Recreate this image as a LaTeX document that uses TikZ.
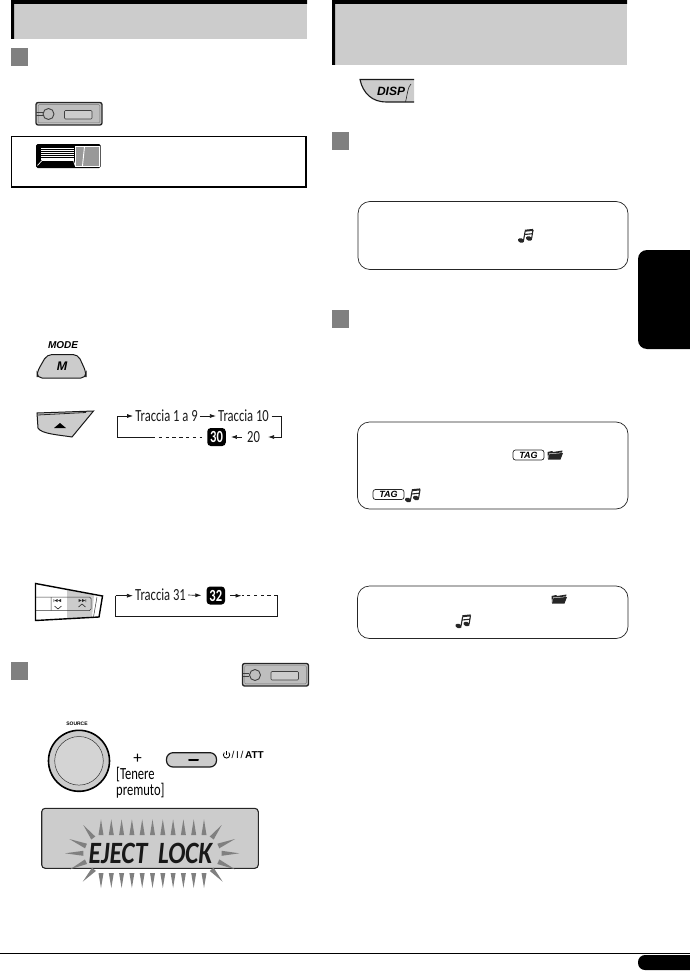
\documentclass[tikz,border=0pt]{standalone}
\usepackage{fontspec}
\setmainfont{Carlito}
\newfontfamily\condfont[FakeStretch=0.74]{Carlito}
\newfontfamily\lcdfont[FakeStretch=0.82]{Carlito}
\newfontfamily\keyfont{Liberation Sans}
\usetikzlibrary{calc,arrows.meta}
\definecolor{headgray}{HTML}{CCCCCC}
\definecolor{stepgray}{HTML}{808080}
\definecolor{panelgray}{HTML}{BEBEBE}
\tikzset{
  pics/headunit/.style={code={
    \draw[fill=panelgray,draw=black!85,line width=1.3pt,rounded corners=2pt] (0,0) rectangle (66,22.5);
    \draw[draw=black!55,line width=0.4pt,rounded corners=1pt] (2.2,2.2) rectangle (63.8,20.3);
    \draw[black!75,line width=0.9pt,fill=panelgray] (12.5,11.5) circle (5.5);
    \draw[black!75,line width=0.6pt] (0,10) -- (6.5,10) (0,12.8) -- (6.5,12.8);
    \draw[black!75,fill=headgray,line width=0.6pt,rounded corners=1pt] (28.5,8) rectangle (56,16.5);
  }},
  pics/notemark/.style={code={
    \fill[black!85,rotate around={-20:(3,11)}] (3,11) ellipse (3.2 and 2.2);
    \fill[black!85,rotate around={-20:(11,9)}] (11,9) ellipse (3.2 and 2.2);
    \draw[black!85,line width=1.1pt] (5.5,11) -- (7.2,1.5);
    \draw[black!85,line width=1.1pt] (13.6,9) -- (15,0.5);
    \draw[black!85,line width=2pt] (7,1.2) -- (15.2,0.4);
    \draw[black!85,line width=1.1pt] (6.5,5) -- (14.5,4.2);
  }},
  pics/foldermark/.style={code={
    \fill[black!85] (0.5,2) -- (5,1) -- (6,2) -- (15.5,0.5) -- (15,2.5) -- (2,3.5) -- (1,9) -- cycle;
    \fill[black!85] (2.5,4) -- (16,3) -- (13.5,9.5) -- (1,9.5) -- cycle;
  }}
}
\begin{document}
\begin{tikzpicture}[>=Latex,x=1pt,y=-1pt,
  chain/.style={line width=0.7pt,black!90},
  dashline/.style={chain,dash pattern=on 3.4pt off 3.4pt},
  tipped/.style={chain,-{Latex[length=6pt,width=4pt]}},
  tracklabel/.style={inner sep=0pt,font=\condfont\fontsize{17}{17}\selectfont,black!90},
  badge/.style={fill=black,rounded corners=3.5pt,inner sep=0pt,minimum width=18.5pt,minimum height=18pt,text=white,font=\condfont\bfseries\fontsize{17}{17}\selectfont},
  header/.style={fill=headgray},
  stepmark/.style={fill=stepgray},
  infobox/.style={draw=black!85,line width=0.7pt,rounded corners=12pt},
  tagbox/.style={draw=black!85,line width=0.7pt,rounded corners=2.5pt,inner sep=0pt,minimum width=31pt,minimum height=10pt,font=\keyfont\bfseries\itshape\fontsize{9}{9}\selectfont},
  keyface/.style={fill=headgray,draw=black!90,line width=1pt},
  ray/.style={fill=stepgray}]
  \useasboundingbox (0,0) rectangle (690,971);
  % Page furniture
  \fill[header] (11,0) rectangle (307,39);
  \fill[black] (11,0) rectangle (307,4) (11,0) rectangle (14,39);
  \fill[header] (332,0) rectangle (627,65);
  \fill[black] (332,0) rectangle (627,4) (332,0) rectangle (335,65);
  \fill[black,rounded corners=9pt] (638,250) -- (705,250) -- (705,349) -- (638,349) -- cycle;
  \fill[black,rounded corners=7pt] (638,955) -- (705,955) -- (705,970) -- (638,970) -- cycle;
  \draw[black,line width=1.4pt] (0,953.2) -- (690,953.2);
  \foreach \sx/\sy in {11/48,11/662,332/132,332/310}{\fill[stepmark] (\sx,\sy) rectangle ++(17,18);}
  % Left column, upper part
  \pic at (36,102.5) {headunit};
  \draw[black,line width=1.4pt] (11.7,136.7) rectangle (306,187);
  \fill[black,rounded corners=1.5pt] (36,144) rectangle (100.5,168);
  \fill[white] (41,147.5) rectangle (74,160);
  \foreach \ly in {149,151.2,153.4,155.6,157.8}{\draw[black,line width=0.9pt] (41,\ly) -- (74,\ly);}
  \draw[white,line width=0.7pt] (37.5,165.5) -- (42,160.5) -- (73.5,160.5) -- (75,165.5);
  \fill[black!40] (75.5,146.5) rectangle (99,165.8);
  \draw[white,line width=0.9pt] (84.5,146.5) -- (82.5,165.8);
  \draw[white,line width=0.5pt] (75.5,146.5) rectangle (99,165.8);
  \node[font=\keyfont\bfseries\itshape\fontsize{10}{10}\selectfont,inner sep=0pt] (modelabel) at (63,345.3) {MODE};
  \draw[keyface,rounded corners=5pt] (37,378) -- (37,372) -- (47,354.5) -- (78,354.5) -- (86,372) -- (86,378) -- cycle;
  \node[font=\keyfont\bfseries\itshape\fontsize{12.5}{12.5}\selectfont,inner sep=0pt] (modekey) at (62,366.5) {M};
  % Eject key
  \draw[fill=headgray,draw=black!90,line width=1pt] (37,413) -- (93.5,411) -- (72,437) .. controls (60,435) and (41,434) .. (38,428) -- cycle;
  \draw[black!85,line width=0.8pt] (37.5,415) -- (86,412.5);
  \fill[black] (54,428) -- (60,423) -- (66,428) -- cycle;
  % First track loop
  \node[tracklabel] (trackone) at (166.5,416) {Traccia 1 a 9};
  \node[tracklabel] (trackten) at (243.5,416) {Traccia 10};
  \node[tracklabel] (twenty) at (253.5,437) {20};
  \node[badge] (thirty) at (216.5,437) {30};
  \coordinate (loopa) at (117.5,416);
  \coordinate (loopb) at (117.5,437);
  \coordinate (loopc) at (152,437);
  \coordinate (loopd) at (281.7,416);
  \coordinate (loope) at (281.7,437);
  \draw[dashline,shorten >=5pt] (loopc) -- (thirty.west);
  \draw[chain] (loopc) -- (loopb) -- (loopa);
  \draw[tipped,shorten >=2pt] (loopa) -- (trackone.west);
  \draw[tipped,shorten >=2pt,shorten <=2pt] (trackone.east) -- (trackten.west);
  \draw[chain,shorten <=2.5pt] (trackten.east) -- (loopd) -- (loope);
  \draw[tipped,shorten >=8pt] (loope) -- (twenty.east);
  \draw[tipped,shorten >=5pt,shorten <=5pt] (twenty.west) -- (thirty.east);
  % Track key
  \fill[white] (35.5,583.5) -- (102.5,596) -- (99,617) -- (35.5,620.5) -- cycle;
  \fill[headgray] (67,590) -- (94,595) -- (92,617.4) -- (67,618.8) -- cycle;
  \draw[black,line width=1.4pt] (35.5,583.5) -- (102.5,596) -- (99,617) -- (35.5,620.5) -- cycle;
  \draw[black!80,line width=0.5pt,rounded corners=1.5pt] (36,597) -- (91,597) -- (91,610.5) -- (36,610.5);
  \draw[black!80,line width=0.5pt] (51,597) -- (51,610.5) (97,597) -- (93.5,617);
  \foreach \kx/\ktip/\kbase in {58/609/606,82/604/607}{\draw[black!85,line width=0.6pt] (\kx-3.5,\kbase) -- (\kx,\ktip) -- (\kx+3.5,\kbase);}
  \fill[black!85] (53.5,599) rectangle (54.2,602) (54.5,600.5) -- (57.5,599) -- (57.5,602) -- cycle (58,600.5) -- (61,599) -- (61,602) -- cycle;
  \fill[black!85] (85.5,599) rectangle (86.2,602) (85.2,600.5) -- (82.2,599) -- (82.2,602) -- cycle (81.7,600.5) -- (78.7,599) -- (78.7,602) -- cycle;
  % Second track loop
  \node[tracklabel] (trackthirtyone) at (160.5,595) {Traccia 31};
  \node[badge] (thirtytwo) at (215.8,595.5) {32};
  \coordinate (backa) at (115.5,595.7);
  \coordinate (backb) at (115.5,616);
  \coordinate (backc) at (277.5,616);
  \coordinate (backd) at (277.5,595.7);
  \coordinate (backe) at (241.5,595.7);
  \draw[tipped,shorten >=2pt] (backa) -- (trackthirtyone.west |- backa);
  \draw[chain] (backa) -- (backb) -- (backc) -- (backd);
  \draw[dashline] (backd) -- (backe);
  \draw[tipped,shorten >=5pt,shorten <=2pt] (trackthirtyone.east) -- (thirtytwo.west);
  \draw[tipped,shorten <=5pt] (thirtytwo.east |- backe) -- (backe);
  % Eject lock keys
  \pic at (242.5,663.5) {headunit};
  \node[font=\keyfont\bfseries\fontsize{5}{5}\selectfont,inner sep=0pt] (sourcelabel) at (77,723.7) {SOURCE};
  \draw[fill=headgray,draw=black,line width=1.6pt] (79,760.8) circle (30.5);
  \draw[black!80,line width=0.5pt,fill=headgray!85!white] (79,760.8) circle (24.3);
  \node[font=\fontsize{17}{17}\selectfont,inner sep=0pt] (plus) at (137.5,758.5) {+};
  \node[font=\condfont\fontsize{17}{15.5}\selectfont,inner sep=0pt,align=left,anchor=west] (holdlabel) at (116,782.5) {[Tenere\\premuto]};
  \draw[keyface,line width=1.2pt,rounded corners=6.5pt] (166.5,752.7) rectangle (216.5,767);
  \draw[black,line width=2pt,line cap=round] (189,760) -- (198,760);
  \draw[black,line width=0.8pt] (226.5,751.3) -- (226.5,754.5);
  \draw[black,line width=0.8pt] (224.3,752.6) arc[start angle=225,end angle=-45,radius=3.2];
  \node[font=\keyfont\fontsize{10}{10}\selectfont,inner sep=0pt,anchor=west] (powerlabel) at (231.5,754.5) {/\,I\,/\,\textbf{ATT}};
  % LCD with rays
  \draw[fill=headgray,draw=black!85,line width=1.1pt,rounded corners=3.5pt] (41.7,808.3) rectangle (258.3,868.3);
  \foreach \i in {0,...,10}{
    \pgfmathsetmacro{\rx}{101+10.3*\i}
    \fill[ray] ({\rx-2.5},835) -- (\rx,819.3) -- ({\rx+2.5},835) -- cycle;
    \fill[ray] ({\rx-2.5},873) -- (\rx,888) -- ({\rx+2.5},873) -- cycle;
  }
  \foreach \tx/\ty/\bx/\by in {83.3/825/93.3/838,69.3/839/86/846,65/853.3/83.3/853.3,70/869.3/86/861.7,82.7/881.7/94/869.3,221.7/825/211.7/838,235/839/218.3/846,239.3/853.3/221.7/853.3,235/869.3/218.3/861.7,222.7/881.7/211.7/869.3}{
    \fill[ray] ($(\bx,\by)!2.5pt!90:(\tx,\ty)$) -- (\tx,\ty) -- ($(\bx,\by)!2.5pt!-90:(\tx,\ty)$) -- cycle;
  }
  \node[font=\lcdfont\bfseries\itshape\fontsize{31}{31}\selectfont,inner sep=0pt,text=black!90] (lcdtext) at (150.5,853.5) {EJECT\hspace{0.35em}LOCK};
  % Right column
  \fill[headgray] (360,79.5) .. controls (363,94) and (373,102) .. (386,102) -- (414,102) -- (414,79.5) -- cycle;
  \draw[black!90,line width=1.1pt] (414,79.5) -- (360,79.5) .. controls (363,94) and (373,102) .. (386,102) -- (414,102);
  \draw[black!85,line width=0.6pt] (411,84) .. controls (408,86) and (407,96) .. (405.5,102);
  \node[font=\keyfont\bfseries\itshape\fontsize{12}{12}\selectfont,inner sep=0pt] (disp) at (391,91.5) {DISP};
  \draw[infobox] (358,201.5) rectangle (628,269.5);
  \pic at (518,229.5) {notemark};
  \draw[infobox] (357.5,422) rectangle (628,509);
  \node[tagbox] (tagfolder) at (528.5,455) {TAG};
  \pic at (547,450) {foldermark};
  \node[tagbox] (tagnote) at (388.5,494.5) {TAG};
  \pic at (405,489) {notemark};
  \draw[infobox] (357.5,586) rectangle (628,638.5);
  \pic at (551,594) {foldermark};
  \pic at (455.5,615) {notemark};
\end{tikzpicture}
\end{document}
